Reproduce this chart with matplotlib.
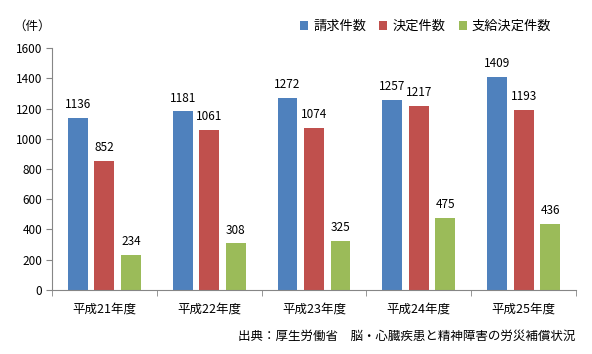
import matplotlib
matplotlib.use("Agg")
import matplotlib.pyplot as plt
import numpy as np

plt.rcParams['font.family'] = ['Noto Sans CJK JP', 'DejaVu Sans']

years = ['平成21年度', '平成22年度', '平成23年度', '平成24年度', '平成25年度']
seikyu = [1136, 1181, 1272, 1257, 1409]
kettei = [852, 1061, 1074, 1217, 1193]
shikyu = [234, 308, 325, 475, 436]
series_names = ['請求件数', '決定件数', '支給決定件数']
colors = ['#4F81BD', '#C0504D', '#9BBB59']
axis_color = '#868686'

fig = plt.figure(figsize=(5.92, 3.54), dpi=100)
ax = fig.add_axes([0.0878, 0.1808, 0.8852, 0.6836])

x = np.arange(len(years))
width = 0.19
step = 0.253
for i, (vals, name, c) in enumerate(zip([seikyu, kettei, shikyu], series_names, colors)):
    pos = x + (i - 1) * step
    ax.bar(pos, vals, width, color=c, label=name)
    for p, v in zip(pos, vals):
        ax.text(p, v + 45, str(v), ha='center', va='bottom', fontsize=8.5)

ax.set_xlim(-0.5, len(years) - 0.5)
ax.set_ylim(0, 1600)
ax.set_yticks(range(0, 1601, 200))
ax.tick_params(axis='y', labelsize=8.5, length=4, color=axis_color, pad=3)
ax.set_xticks(x)
ax.set_xticklabels(years, fontsize=9)
ax.tick_params(axis='x', which='major', length=0, pad=9)
ax.set_xticks(np.arange(len(years) + 1) - 0.5, minor=True)
ax.tick_params(axis='x', which='minor', length=4, color=axis_color)

for s in ['top', 'right']:
    ax.spines[s].set_visible(False)
for s in ['left', 'bottom']:
    ax.spines[s].set_color(axis_color)

fig.text(0.022, 0.925, '（件）', fontsize=9, va='center', ha='left')

ax.legend(loc='lower right', bbox_to_anchor=(0.963, 1.04), ncol=3, frameon=False,
          fontsize=9.5, handlelength=0.6, handleheight=0.6, handletextpad=0.4,
          columnspacing=1.0, borderaxespad=0)

fig.text(0.972, 0.05, '出典：厚生労働省　脳・心臓疾患と精神障害の労災補償状況',
         fontsize=9, ha='right', va='center')

fig.savefig('out.png', dpi=100)
